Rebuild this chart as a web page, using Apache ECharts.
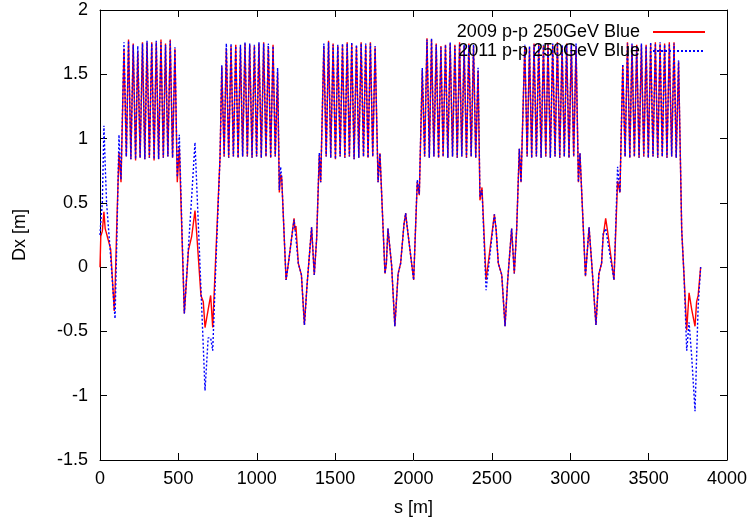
<!DOCTYPE html>
<html><head><meta charset="utf-8">
<script src="https://cdn.jsdelivr.net/npm/echarts@6/dist/echarts.min.js"></script>
<style>html,body{margin:0;padding:0;background:#fff}#c{width:752px;height:525px}</style>
</head><body><div id="c"></div>
<script>
// s positions [m], shared by both data sets
const sPos = [
  0,5,15,25,33,42,68,91,96,108,121,134,
  153,168,182,197,212,227,241,256,271,286,300,315,330,345,359,374,389,404,418,433,448,463,478,
  493,506,538,564,585,606,617,644,659,670,690,706,719,740,766,
  777,792,806,821,836,851,866,881,896,910,925,940,955,970,985,999,1014,1029,1044,1059,1074,1089,1104,1118,1133,
  1144,1152,1159,1187,1201,1238,1244,1250,1265,1285,1304,1322,1350,1367,1382,1399,1408,
  1428,1443,1458,1472,1487,1502,1517,1532,1547,1562,1577,1591,1606,1621,1636,1651,1666,1681,1695,1710,1725,1740,1755,
  1774,1786,1818,1827,1837,1860,1881,1902,1918,1939,1950,1958,2001,2024,2037,
  2056,2071,2086,2101,2115,2130,2145,2160,2175,2189,2204,2219,2234,2249,2264,2279,2294,2308,2323,2338,2353,2368,2383,2397,2412,
  2424,2437,2463,2516,2527,2541,2563,2584,2601,2626,2643,2658,2675,2686,
  2710,2725,2740,2754,2769,2784,2799,2814,2829,2844,2858,2873,2888,2903,2918,2933,2948,2962,2977,2992,3007,3022,3037,
  3052,3062,3097,3120,3137,3164,3183,3200,3210,3226,3237,3279,3302,3317,
  3335,3350,3365,3380,3394,3409,3424,3439,3454,3469,3484,3498,3513,3528,3543,3558,3573,3587,3602,3617,3632,3647,3662,3676,3691,
  3711,3726,3743,3758,3775,3796,3806,3816,3832
];
// Dx [m], 2009 p-p 250GeV Blue
const dx2009 = [
  0.00,0.24,0.28,0.43,0.30,0.26,0.14,-0.34,-0.18,0.37,0.89,0.66,
  1.70,0.86,1.77,0.84,1.74,0.83,1.68,0.85,1.75,0.84,1.75,0.85,1.75,0.83,1.75,0.84,1.77,0.85,1.74,0.86,1.77,0.85,1.70,
  0.66,0.93,-0.36,0.13,0.24,0.44,0.26,-0.22,-0.27,-0.47,-0.33,-0.22,-0.47,0.13,0.86,
  1.56,0.86,1.70,0.85,1.72,0.86,1.73,0.85,1.71,0.86,1.74,0.86,1.73,0.85,1.72,0.86,1.74,0.85,1.75,0.86,1.72,0.85,1.73,0.86,1.52,
  0.58,0.72,0.70,-0.10,0.02,0.38,0.29,0.32,0.03,-0.06,-0.45,-0.12,0.31,-0.06,0.22,0.87,0.66,
  1.72,0.86,1.76,0.85,1.74,0.84,1.72,0.86,1.73,0.85,1.75,0.86,1.74,0.84,1.72,0.85,1.75,0.86,1.73,0.85,1.75,0.86,1.71,
  0.66,0.885,-0.05,0.03,0.30,0.02,-0.46,-0.05,0.03,0.33,0.42,0.33,-0.10,0.66,0.56,
  1.53,0.86,1.78,0.85,1.77,0.86,1.74,0.85,1.72,0.86,1.73,0.85,1.74,0.86,1.73,0.85,1.75,0.86,1.72,0.85,1.74,0.86,1.72,0.85,1.53,
  0.52,0.62,-0.10,0.41,0.29,0.03,-0.06,-0.46,-0.10,0.30,-0.05,0.29,0.92,0.66,
  1.72,0.86,1.71,0.85,1.74,0.86,1.73,0.85,1.72,0.86,1.74,0.85,1.73,0.86,1.75,0.85,1.72,0.86,1.74,0.85,1.73,0.86,1.72,
  0.66,0.885,-0.07,0.31,0.03,-0.45,-0.05,0.03,0.24,0.38,0.29,-0.10,0.67,0.58,
  1.57,0.86,1.75,0.85,1.73,0.86,1.73,0.85,1.73,0.86,1.73,0.85,1.74,0.86,1.75,0.85,1.74,0.86,1.74,0.85,1.75,0.86,1.75,0.85,1.60,
  0.29,-0.07,-0.49,-0.20,-0.33,-0.46,-0.27,-0.22,0.00
];
// Dx [m], 2011 p-p 250GeV Blue
const dx2011 = [
  0.25,0.35,0.50,1.10,0.80,0.50,0.08,-0.32,-0.40,0.24,1.03,0.68,
  1.75,0.86,1.76,0.84,1.73,0.84,1.72,0.85,1.74,0.84,1.76,0.85,1.74,0.84,1.76,0.84,1.75,0.85,1.73,0.86,1.76,0.85,1.71,
  0.70,1.03,-0.36,0.15,0.55,0.97,0.64,-0.17,-0.62,-0.96,-0.55,-0.55,-0.65,0.05,0.86,
  1.57,0.86,1.74,0.85,1.74,0.86,1.72,0.85,1.73,0.86,1.75,0.86,1.74,0.85,1.73,0.86,1.75,0.85,1.74,0.86,1.74,0.85,1.72,0.86,1.55,
  0.60,0.78,0.70,-0.10,0.02,0.37,0.30,0.31,0.03,-0.06,-0.45,-0.12,0.31,-0.06,0.22,0.89,0.66,
  1.74,0.86,1.75,0.85,1.73,0.84,1.73,0.86,1.74,0.85,1.74,0.86,1.75,0.84,1.73,0.85,1.74,0.86,1.74,0.85,1.74,0.86,1.72,
  0.66,0.885,-0.05,0.03,0.30,0.02,-0.46,-0.05,0.03,0.33,0.42,0.33,-0.10,0.68,0.57,
  1.55,0.86,1.77,0.85,1.78,0.86,1.73,0.85,1.71,0.86,1.73,0.85,1.75,0.86,1.72,0.85,1.74,0.86,1.73,0.85,1.73,0.86,1.73,0.85,1.55,
  0.55,0.60,-0.18,0.41,0.30,0.03,-0.06,-0.46,-0.10,0.30,-0.05,0.29,0.92,0.66,
  1.73,0.86,1.72,0.85,1.73,0.86,1.74,0.85,1.73,0.86,1.73,0.85,1.74,0.86,1.74,0.85,1.73,0.86,1.73,0.85,1.74,0.86,1.74,
  0.66,0.885,-0.07,0.31,0.03,-0.45,-0.05,0.03,0.26,0.30,0.29,-0.10,0.78,0.58,
  1.58,0.86,1.74,0.85,1.74,0.86,1.72,0.85,1.74,0.86,1.72,0.85,1.75,0.86,1.74,0.85,1.75,0.86,1.73,0.85,1.74,0.86,1.74,0.85,1.61,
  0.29,-0.07,-0.65,-0.43,-0.70,-1.12,-0.70,-0.30,0.00
];
const seriesNames = ['2009 p-p 250GeV Blue', '2011 p-p 250GeV Blue'];
const xTitle = 's [m]';
const yTitle = 'Dx [m]';

const FONT = "'Liberation Sans', Arial, Helvetica, sans-serif";
const zip = (xs, ys) => xs.map((x, i) => [x, ys[i]]);
const plain = v => String(v);

const chart = echarts.init(document.getElementById('c'), null, {renderer: 'canvas'});
const xBase = {
  type: 'value', min: 0, max: 4000, interval: 500,
  splitLine: {show: false},
  axisLine: {show: true, onZero: false, lineStyle: {color: '#000', width: 1}},
  axisTick: {show: true, inside: true, length: 7, lineStyle: {color: '#000', width: 1}}
};
const yBase = {
  type: 'value', min: -1.5, max: 2, interval: 0.5,
  splitLine: {show: false},
  axisLine: {show: true, onZero: false, lineStyle: {color: '#000', width: 1}},
  axisTick: {show: true, inside: true, length: 7, lineStyle: {color: '#000', width: 1}}
};
chart.setOption({
  animation: false,
  backgroundColor: '#fff',
  grid: {left: 100, right: 25, top: 10, bottom: 65, show: false},
  legend: {
    orient: 'vertical', align: 'right', right: 41, top: 18,
    itemWidth: 52, itemHeight: 14, itemGap: 1,
    data: seriesNames,
    itemStyle: {opacity: 0},
    textStyle: {fontFamily: FONT, fontSize: 18, color: '#000', padding: [0, 8, 0, 0]}
  },
  xAxis: [
    Object.assign({}, xBase, {
      position: 'bottom',
      name: xTitle, nameLocation: 'middle', nameGap: 39,
      nameTextStyle: {fontFamily: FONT, fontSize: 18, color: '#000'},
      axisLabel: {margin: 10, fontFamily: FONT, fontSize: 18, color: '#000', formatter: plain}
    }),
    Object.assign({}, xBase, {position: 'top', axisLabel: {show: false}})
  ],
  yAxis: [
    Object.assign({}, yBase, {
      position: 'left',
      name: yTitle, nameLocation: 'middle', nameGap: 71, nameRotate: 90,
      nameTextStyle: {fontFamily: FONT, fontSize: 18, color: '#000'},
      axisLabel: {margin: 12, fontFamily: FONT, fontSize: 18, color: '#000', formatter: plain}
    }),
    Object.assign({}, yBase, {position: 'right', axisLabel: {show: false}})
  ],
  series: [
    {
      name: seriesNames[0], type: 'line', xAxisIndex: 0, yAxisIndex: 0,
      showSymbol: false, symbol: 'none',
      data: zip(sPos, dx2009),
      lineStyle: {color: '#ff0000', width: 1.4, type: 'solid'},
      itemStyle: {color: '#ff0000'},
      z: 2
    },
    {
      name: seriesNames[1], type: 'line', xAxisIndex: 0, yAxisIndex: 0,
      showSymbol: false, symbol: 'none',
      data: zip(sPos, dx2011),
      lineStyle: {color: '#0000ff', width: 1.4, type: [2, 2]},
      itemStyle: {color: '#0000ff'},
      z: 3
    }
  ]
});
</script>
</body></html>
